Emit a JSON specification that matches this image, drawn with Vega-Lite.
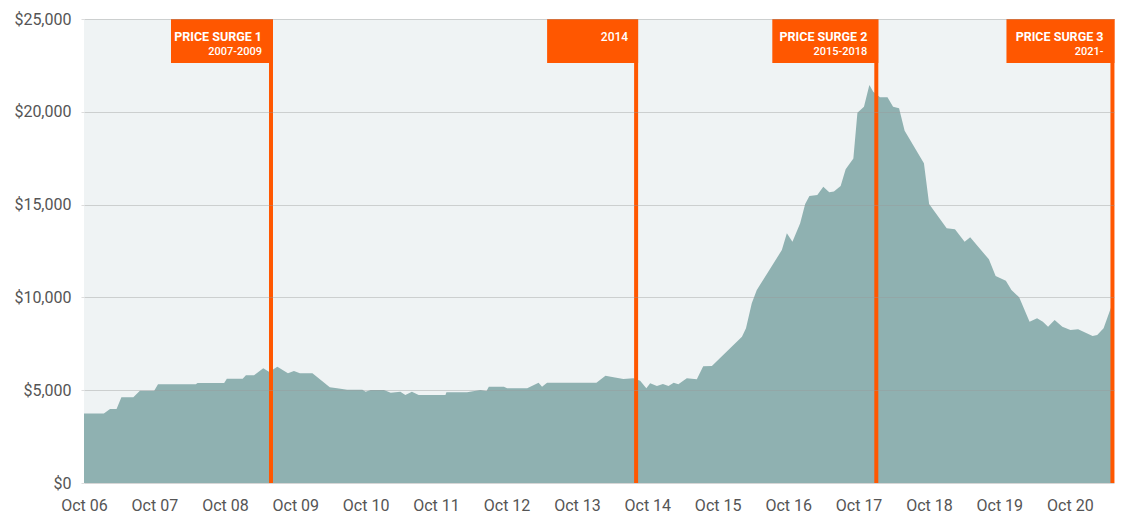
{
  "$schema": "https://vega.github.io/schema/vega-lite/v6.json",
  "width": 1030,
  "height": 464,
  "autosize": {"type": "none"},
  "padding": {"left": 84, "top": 19, "right": 8, "bottom": 33},
  "background": "white",
  "config": {"view": {"fill": "#eff3f4", "stroke": null}, "font": "Roboto"},
  "datasets": {
    "series": [
      {"date": "2006-10-01", "price": 3750},
      {"date": "2007-01-12", "price": 3750},
      {"date": "2007-02-13", "price": 3990},
      {"date": "2007-03-19", "price": 3990},
      {"date": "2007-04-13", "price": 4620},
      {"date": "2007-06-14", "price": 4620},
      {"date": "2007-07-18", "price": 4970},
      {"date": "2007-09-30", "price": 4970},
      {"date": "2007-10-20", "price": 5320},
      {"date": "2008-05-03", "price": 5320},
      {"date": "2008-05-12", "price": 5390},
      {"date": "2008-09-27", "price": 5390},
      {"date": "2008-10-11", "price": 5620},
      {"date": "2009-01-01", "price": 5620},
      {"date": "2009-01-18", "price": 5800},
      {"date": "2009-03-01", "price": 5800},
      {"date": "2009-04-18", "price": 6180},
      {"date": "2009-05-17", "price": 6000},
      {"date": "2009-06-04", "price": 6090},
      {"date": "2009-06-30", "price": 6270},
      {"date": "2009-08-24", "price": 5910},
      {"date": "2009-09-24", "price": 6035},
      {"date": "2009-10-25", "price": 5910},
      {"date": "2009-12-29", "price": 5910},
      {"date": "2010-03-29", "price": 5155},
      {"date": "2010-05-06", "price": 5100},
      {"date": "2010-06-27", "price": 5030},
      {"date": "2010-09-14", "price": 5030},
      {"date": "2010-10-01", "price": 4920},
      {"date": "2010-10-27", "price": 5010},
      {"date": "2011-01-04", "price": 5010},
      {"date": "2011-02-08", "price": 4865},
      {"date": "2011-03-30", "price": 4920},
      {"date": "2011-04-25", "price": 4740},
      {"date": "2011-05-29", "price": 4920},
      {"date": "2011-07-03", "price": 4740},
      {"date": "2011-11-19", "price": 4740},
      {"date": "2011-11-24", "price": 4890},
      {"date": "2012-03-10", "price": 4890},
      {"date": "2012-05-18", "price": 5010},
      {"date": "2012-06-19", "price": 4960},
      {"date": "2012-07-01", "price": 5190},
      {"date": "2012-09-17", "price": 5190},
      {"date": "2012-10-04", "price": 5100},
      {"date": "2013-01-16", "price": 5100},
      {"date": "2013-03-16", "price": 5400},
      {"date": "2013-04-03", "price": 5190},
      {"date": "2013-04-29", "price": 5400},
      {"date": "2014-01-10", "price": 5400},
      {"date": "2014-02-26", "price": 5780},
      {"date": "2014-04-09", "price": 5695},
      {"date": "2014-05-30", "price": 5600},
      {"date": "2014-07-21", "price": 5640},
      {"date": "2014-08-25", "price": 5510},
      {"date": "2014-09-26", "price": 5100},
      {"date": "2014-10-16", "price": 5370},
      {"date": "2014-11-20", "price": 5225},
      {"date": "2014-12-21", "price": 5335},
      {"date": "2015-01-19", "price": 5225},
      {"date": "2015-02-15", "price": 5400},
      {"date": "2015-03-11", "price": 5317},
      {"date": "2015-04-24", "price": 5640},
      {"date": "2015-06-15", "price": 5590},
      {"date": "2015-07-18", "price": 6290},
      {"date": "2015-09-01", "price": 6300},
      {"date": "2016-02-04", "price": 7880},
      {"date": "2016-02-25", "price": 8335},
      {"date": "2016-03-26", "price": 9680},
      {"date": "2016-04-21", "price": 10400},
      {"date": "2016-08-29", "price": 12550},
      {"date": "2016-09-24", "price": 13450},
      {"date": "2016-10-23", "price": 13000},
      {"date": "2016-12-02", "price": 13990},
      {"date": "2016-12-28", "price": 15030},
      {"date": "2017-01-19", "price": 15460},
      {"date": "2017-03-01", "price": 15520},
      {"date": "2017-04-01", "price": 15960},
      {"date": "2017-05-02", "price": 15660},
      {"date": "2017-05-26", "price": 15700},
      {"date": "2017-06-30", "price": 16000},
      {"date": "2017-07-26", "price": 16900},
      {"date": "2017-09-04", "price": 17490},
      {"date": "2017-09-25", "price": 19950},
      {"date": "2017-10-29", "price": 20275},
      {"date": "2017-11-26", "price": 21445},
      {"date": "2017-12-16", "price": 21080},
      {"date": "2018-01-20", "price": 20780},
      {"date": "2018-02-28", "price": 20780},
      {"date": "2018-03-29", "price": 20275},
      {"date": "2018-04-29", "price": 20190},
      {"date": "2018-05-28", "price": 18980},
      {"date": "2018-09-05", "price": 17225},
      {"date": "2018-10-02", "price": 15030},
      {"date": "2019-01-01", "price": 13720},
      {"date": "2019-02-13", "price": 13670},
      {"date": "2019-04-04", "price": 13000},
      {"date": "2019-05-03", "price": 13240},
      {"date": "2019-08-08", "price": 12050},
      {"date": "2019-09-12", "price": 11150},
      {"date": "2019-11-04", "price": 10900},
      {"date": "2019-12-03", "price": 10400},
      {"date": "2020-01-12", "price": 10005},
      {"date": "2020-03-06", "price": 8690},
      {"date": "2020-04-14", "price": 8870},
      {"date": "2020-05-14", "price": 8690},
      {"date": "2020-06-10", "price": 8420},
      {"date": "2020-07-14", "price": 8780},
      {"date": "2020-08-23", "price": 8420},
      {"date": "2020-10-04", "price": 8240},
      {"date": "2020-11-13", "price": 8280},
      {"date": "2021-01-27", "price": 7920},
      {"date": "2021-02-20", "price": 7975},
      {"date": "2021-03-25", "price": 8335},
      {"date": "2021-05-04", "price": 9500},
      {"date": "2021-05-18", "price": 9700}
    ],
    "notes": [
      {"date": "2009-05-28", "title": "PRICE SURGE 1", "period": "2007-2009"},
      {"date": "2014-08-04", "title": null, "period": "2014"},
      {"date": "2018-01-01", "title": "PRICE SURGE 2", "period": "2015-2018"},
      {"date": "2021-05-10", "title": "PRICE SURGE 3", "period": "2021-"}
    ]
  },
  "layer": [
    {
      "data": {"name": "series"},
      "mark": {"type": "area", "color": "#8fb1b1", "clip": true, "interpolate": "linear"},
      "encoding": {
        "x": {
          "field": "date",
          "type": "temporal",
          "scale": {"domain": [{"year": 2006, "month": 10, "date": 1}, {"year": 2021, "month": 5, "date": 18}]},
          "axis": {
            "title": null,
            "values": [
              {"year": 2006, "month": 10, "date": 1},
              {"year": 2007, "month": 10, "date": 1},
              {"year": 2008, "month": 10, "date": 1},
              {"year": 2009, "month": 10, "date": 1},
              {"year": 2010, "month": 10, "date": 1},
              {"year": 2011, "month": 10, "date": 1},
              {"year": 2012, "month": 10, "date": 1},
              {"year": 2013, "month": 10, "date": 1},
              {"year": 2014, "month": 10, "date": 1},
              {"year": 2015, "month": 10, "date": 1},
              {"year": 2016, "month": 10, "date": 1},
              {"year": 2017, "month": 10, "date": 1},
              {"year": 2018, "month": 10, "date": 1},
              {"year": 2019, "month": 10, "date": 1},
              {"year": 2020, "month": 10, "date": 1}
            ],
            "format": "%b %y",
            "ticks": false,
            "domain": false,
            "grid": false,
            "labelFlush": false,
            "labelOverlap": false,
            "labelFontSize": 16,
            "labelColor": "#555555",
            "labelPadding": 14
          }
        },
        "y": {
          "field": "price",
          "type": "quantitative",
          "scale": {"domain": [0, 25000], "nice": false},
          "axis": {
            "title": null,
            "values": [0, 5000, 10000, 15000, 20000, 25000],
            "format": "$,.0f",
            "domain": false,
            "ticks": true,
            "tickSize": 3,
            "tickColor": "#dddddd",
            "gridColor": "#999999",
            "gridOpacity": 0.4,
            "labelFontSize": 16,
            "labelColor": "#555555",
            "labelPadding": 10,
            "zindex": 1
          }
        }
      }
    },
    {
      "data": {"name": "notes"},
      "mark": {"type": "rule", "color": "#ff5700", "strokeWidth": 4},
      "encoding": {"x": {"field": "date", "type": "temporal"}}
    },
    {
      "data": {"name": "notes"},
      "transform": [{"filter": "datum.period == '2007-2009'"}],
      "mark": {"type": "rect", "color": "#ff5700", "xOffset": -100, "x2Offset": 2, "y2Offset": 44},
      "encoding": {"x": {"field": "date", "type": "temporal"}, "x2": {"field": "date"}, "y": {"datum": 25000}, "y2": {"datum": 25000}}
    },
    {
      "data": {"name": "notes"},
      "transform": [{"filter": "datum.period == '2014'"}],
      "mark": {"type": "rect", "color": "#ff5700", "xOffset": -89, "x2Offset": 2, "y2Offset": 44},
      "encoding": {"x": {"field": "date", "type": "temporal"}, "x2": {"field": "date"}, "y": {"datum": 25000}, "y2": {"datum": 25000}}
    },
    {
      "data": {"name": "notes"},
      "transform": [{"filter": "datum.period == '2015-2018'"}],
      "mark": {"type": "rect", "color": "#ff5700", "xOffset": -104, "x2Offset": 2, "y2Offset": 44},
      "encoding": {"x": {"field": "date", "type": "temporal"}, "x2": {"field": "date"}, "y": {"datum": 25000}, "y2": {"datum": 25000}}
    },
    {
      "data": {"name": "notes"},
      "transform": [{"filter": "datum.period == '2021-'"}],
      "mark": {"type": "rect", "color": "#ff5700", "xOffset": -106, "x2Offset": 2, "y2Offset": 44},
      "encoding": {"x": {"field": "date", "type": "temporal"}, "x2": {"field": "date"}, "y": {"datum": 25000}, "y2": {"datum": 25000}}
    },
    {
      "data": {"name": "notes"},
      "transform": [{"filter": "datum.title != null"}],
      "mark": {"type": "text", "align": "right", "baseline": "alphabetic", "dx": -9, "dy": 21.5, "fontSize": 12.5, "fontWeight": "bold", "color": "white"},
      "encoding": {"x": {"field": "date", "type": "temporal"}, "y": {"datum": 25000}, "text": {"field": "title"}}
    },
    {
      "data": {"name": "notes"},
      "transform": [{"filter": "datum.title != null"}],
      "mark": {"type": "text", "align": "right", "baseline": "alphabetic", "dx": -9, "dy": 36, "fontSize": 11, "fontWeight": 500, "color": "white"},
      "encoding": {"x": {"field": "date", "type": "temporal"}, "y": {"datum": 25000}, "text": {"field": "period"}}
    },
    {
      "data": {"name": "notes"},
      "transform": [{"filter": "datum.title == null"}],
      "mark": {"type": "text", "align": "right", "baseline": "alphabetic", "dx": -8, "dy": 22.4, "fontSize": 12, "fontWeight": 500, "color": "white"},
      "encoding": {"x": {"field": "date", "type": "temporal"}, "y": {"datum": 25000}, "text": {"field": "period"}}
    }
  ]
}
